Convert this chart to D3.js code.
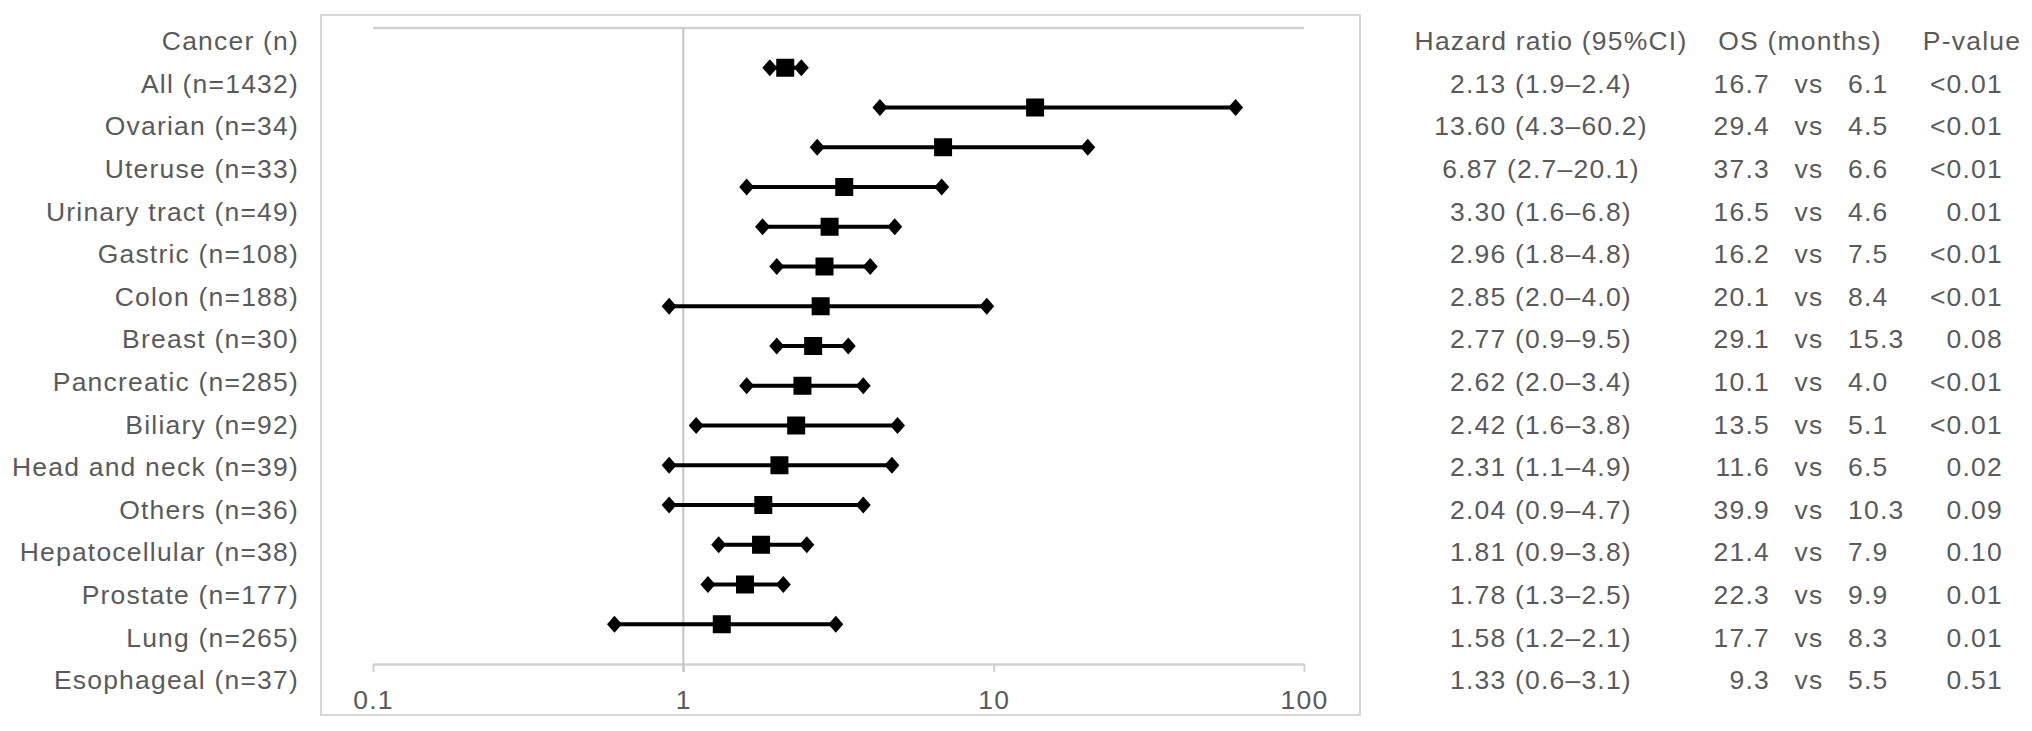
<!DOCTYPE html>
<html>
<head>
<meta charset="utf-8">
<script src="https://cdn.jsdelivr.net/npm/d3@7/dist/d3.min.js"></script>
<style>
  body { margin: 0; background: #fff; }
  text { font-family: "Liberation Sans", Arial, Helvetica, sans-serif; font-size: 26.5px; fill: #5a5a5a; letter-spacing: 1.2px; }
</style>
</head>
<body>
<svg id="chart" width="2032" height="731"></svg>
<script>
// rows, top to bottom
var cancers = ["All (n=1432)", "Ovarian (n=34)", "Uteruse (n=33)", "Urinary tract (n=49)", "Gastric (n=108)",
    "Colon (n=188)", "Breast (n=30)", "Pancreatic (n=285)", "Biliary (n=92)", "Head and neck (n=39)",
    "Others (n=36)", "Hepatocellular (n=38)", "Prostate (n=177)", "Lung (n=265)", "Esophageal (n=37)"];
var hr    = [2.13, 13.60, 6.87, 3.30, 2.96, 2.85, 2.77, 2.62, 2.42, 2.31, 2.04, 1.81, 1.78, 1.58, 1.33];
var ciLow = [1.9, 4.3, 2.7, 1.6, 1.8, 2.0, 0.9, 2.0, 1.6, 1.1, 0.9, 0.9, 1.3, 1.2, 0.6];
var ciHigh = [2.4, 60.2, 20.1, 6.8, 4.8, 4.0, 9.5, 3.4, 3.8, 4.9, 4.7, 3.8, 2.5, 2.1, 3.1];
var osHigh = ["16.7", "29.4", "37.3", "16.5", "16.2", "20.1", "29.1", "10.1", "13.5", "11.6", "39.9", "21.4", "22.3", "17.7", "9.3"];
var osLow  = ["6.1", "4.5", "6.6", "4.6", "7.5", "8.4", "15.3", "4.0", "5.1", "6.5", "10.3", "7.9", "9.9", "8.3", "5.5"];
var pValues = ["<0.01", "<0.01", "<0.01", "0.01", "<0.01", "<0.01", "0.08", "<0.01", "<0.01", "0.02", "0.09", "0.10", "0.01", "0.01", "0.51"];
var xTicks = [0.1, 1, 10, 100];

var svg = d3.select("#chart");

var x = d3.scaleLog().domain([0.1, 100]).range([373, 1304]);
// plot rows (Excel-style value axis 0..16, reversed)
var y = d3.scaleLinear().domain([0, 16]).range([28, 664]);
// text rows: 0 = header
var row = d3.scaleLinear().domain([0, 15]).range([41, 680]);

// outer frame
svg.append("rect")
    .attr("x", 321).attr("y", 15).attr("width", 1039).attr("height", 700)
    .attr("fill", "none").attr("stroke", "#d6d6d6").attr("stroke-width", 2);

// top line
svg.append("line")
    .attr("x1", x(0.1)).attr("x2", x(100)).attr("y1", y(0)).attr("y2", y(0))
    .attr("stroke", "#d0d0d0").attr("stroke-width", 2.5);

// bottom axis
var axis = svg.append("g")
    .attr("transform", "translate(0," + y(16) + ")")
    .call(d3.axisBottom(x).tickValues(xTicks).tickFormat(d3.format("")).tickSize(8).tickSizeOuter(0).tickPadding(18));
axis.select(".domain").attr("stroke", "#d0d0d0").attr("stroke-width", 2.5);
axis.selectAll(".tick line").attr("stroke", "#d0d0d0").attr("stroke-width", 2);
axis.selectAll(".tick text").attr("font-size", null).attr("font-family", null).attr("fill", null);

// reference line at HR = 1
svg.append("line")
    .attr("x1", x(1)).attr("x2", x(1)).attr("y1", y(0)).attr("y2", y(16) + 8)
    .attr("stroke", "#c4c4c4").attr("stroke-width", 2);

// CI bars
var g = svg.append("g");
g.selectAll("line.ci")
    .data(hr)
    .enter()
    .append("line")
    .attr("class", "ci")
    .attr("x1", function (d, i) { return x(ciLow[i]); })
    .attr("x2", function (d, i) { return x(ciHigh[i]); })
    .attr("y1", function (d, i) { return y(i + 1); })
    .attr("y2", function (d, i) { return y(i + 1); })
    .attr("stroke", "#000").attr("stroke-width", 4);

var ends = [];
for (i = 0; i < hr.length; i++) {
    ends.push({ v: ciLow[i], i: i });
    ends.push({ v: ciHigh[i], i: i });
}
g.selectAll("path.end")
    .data(ends)
    .enter()
    .append("path")
    .attr("class", "end")
    .attr("d", "M0,-8.5L7.5,0L0,8.5L-7.5,0Z")
    .attr("transform", function (d) { return "translate(" + x(d.v) + "," + y(d.i + 1) + ")"; })
    .attr("fill", "#000");

g.selectAll("rect.hr")
    .data(hr)
    .enter()
    .append("rect")
    .attr("class", "hr")
    .attr("x", function (d) { return x(d) - 9; })
    .attr("y", function (d, i) { return y(i + 1) - 9; })
    .attr("width", 18).attr("height", 18)
    .attr("fill", "#000");

// left labels
var labels = ["Cancer (n)"].concat(cancers);
svg.selectAll("text.cat")
    .data(labels)
    .enter()
    .append("text")
    .attr("class", "cat")
    .attr("x", 299)
    .attr("y", function (d, i) { return row(i); })
    .attr("dy", "0.35em")
    .attr("text-anchor", "end")
    .text(function (d) { return d; });

// table headers
svg.append("text").attr("x", 1551).attr("y", row(0)).attr("dy", "0.35em").attr("text-anchor", "middle").text("Hazard ratio (95%CI)");
svg.append("text").attr("x", 1800).attr("y", row(0)).attr("dy", "0.35em").attr("text-anchor", "middle").text("OS (months)");
svg.append("text").attr("x", 1972).attr("y", row(0)).attr("dy", "0.35em").attr("text-anchor", "middle").text("P-value");

// table body
var body = svg.append("g");
hr.forEach(function (d, i) {
    var ty = row(i + 1);
    body.append("text").attr("x", 1541).attr("y", ty).attr("dy", "0.35em").attr("text-anchor", "middle")
        .text(d.toFixed(2) + " (" + ciLow[i].toFixed(1) + "\u2013" + ciHigh[i].toFixed(1) + ")");
    body.append("text").attr("x", 1770).attr("y", ty).attr("dy", "0.35em").attr("text-anchor", "end").text(osHigh[i]);
    body.append("text").attr("x", 1809).attr("y", ty).attr("dy", "0.35em").attr("text-anchor", "middle").text("vs");
    body.append("text").attr("x", 1848).attr("y", ty).attr("dy", "0.35em").attr("text-anchor", "start").text(osLow[i]);
    body.append("text").attr("x", 2003).attr("y", ty).attr("dy", "0.35em").attr("text-anchor", "end").text(pValues[i]);
});
</script>
</body>
</html>
